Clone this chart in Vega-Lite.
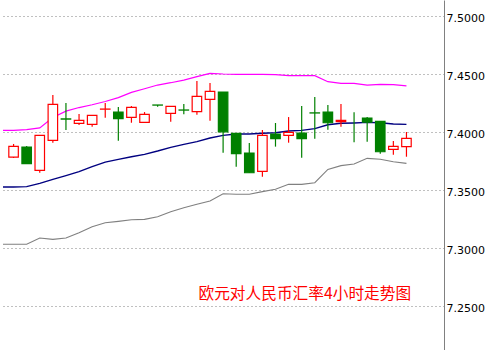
{
  "$schema": "https://vega.github.io/schema/vega-lite/v6.json",
  "width": 441,
  "height": 350,
  "padding": 0,
  "background": "white",
  "config": {"view": {"stroke": null}},
  "datasets": {
    "candles": [
      {"i": 0, "open": 7.3784, "high": 7.3897, "low": 7.3776, "close": 7.3876},
      {"i": 1, "open": 7.3871, "high": 7.3879, "low": 7.3727, "close": 7.3727},
      {"i": 2, "open": 7.3670, "high": 7.3971, "low": 7.3649, "close": 7.3971},
      {"i": 3, "open": 7.3928, "high": 7.4319, "low": 7.3908, "close": 7.4239},
      {"i": 4, "open": 7.4113, "high": 7.4250, "low": 7.4017, "close": 7.4112},
      {"i": 5, "open": 7.4075, "high": 7.4155, "low": 7.4060, "close": 7.4101},
      {"i": 6, "open": 7.4066, "high": 7.4144, "low": 7.4046, "close": 7.4144},
      {"i": 7, "open": 7.4197, "high": 7.4250, "low": 7.4124, "close": 7.4198},
      {"i": 8, "open": 7.4172, "high": 7.4216, "low": 7.3925, "close": 7.4115},
      {"i": 9, "open": 7.4126, "high": 7.4224, "low": 7.4080, "close": 7.4213},
      {"i": 10, "open": 7.4083, "high": 7.4172, "low": 7.4083, "close": 7.4152},
      {"i": 11, "open": 7.4233, "high": 7.4233, "low": 7.4218, "close": 7.4232},
      {"i": 12, "open": 7.4161, "high": 7.4221, "low": 7.4089, "close": 7.4221},
      {"i": 13, "open": 7.4190, "high": 7.4241, "low": 7.4153, "close": 7.4189},
      {"i": 14, "open": 7.4175, "high": 7.4440, "low": 7.4149, "close": 7.4307},
      {"i": 15, "open": 7.4282, "high": 7.4422, "low": 7.4098, "close": 7.4351},
      {"i": 16, "open": 7.4345, "high": 7.4345, "low": 7.3822, "close": 7.4002},
      {"i": 17, "open": 7.3989, "high": 7.3989, "low": 7.3701, "close": 7.3813},
      {"i": 18, "open": 7.3819, "high": 7.3905, "low": 7.3649, "close": 7.3649},
      {"i": 19, "open": 7.3661, "high": 7.4017, "low": 7.3615, "close": 7.3971},
      {"i": 20, "open": 7.3983, "high": 7.4078, "low": 7.3874, "close": 7.3943},
      {"i": 21, "open": 7.3971, "high": 7.4129, "low": 7.3908, "close": 7.3997},
      {"i": 22, "open": 7.3991, "high": 7.4224, "low": 7.3779, "close": 7.3943},
      {"i": 23, "open": 7.4165, "high": 7.4302, "low": 7.3943, "close": 7.4164},
      {"i": 24, "open": 7.4172, "high": 7.4233, "low": 7.4020, "close": 7.4080},
      {"i": 25, "open": 7.4089, "high": 7.4241, "low": 7.4046, "close": 7.4101},
      {"i": 26, "open": 7.4050, "high": 7.4170, "low": 7.3911, "close": 7.4050},
      {"i": 27, "open": 7.4121, "high": 7.4129, "low": 7.3917, "close": 7.4086},
      {"i": 28, "open": 7.4092, "high": 7.4092, "low": 7.3813, "close": 7.3830},
      {"i": 29, "open": 7.3851, "high": 7.3922, "low": 7.3805, "close": 7.3876},
      {"i": 30, "open": 7.3874, "high": 7.4000, "low": 7.3787, "close": 7.3945}
    ],
    "bands": [
      {"i": -1, "upper": 7.4014, "mid": 7.3526, "lower": 7.3032},
      {"i": 0, "upper": 7.4014, "mid": 7.3526, "lower": 7.3032},
      {"i": 1, "upper": 7.4020, "mid": 7.3529, "lower": 7.3032},
      {"i": 2, "upper": 7.4035, "mid": 7.3557, "lower": 7.3086},
      {"i": 3, "upper": 7.4125, "mid": 7.3592, "lower": 7.3075},
      {"i": 4, "upper": 7.4180, "mid": 7.3624, "lower": 7.3086},
      {"i": 5, "upper": 7.4211, "mid": 7.3658, "lower": 7.3132},
      {"i": 6, "upper": 7.4235, "mid": 7.3701, "lower": 7.3184},
      {"i": 7, "upper": 7.4263, "mid": 7.3741, "lower": 7.3218},
      {"i": 8, "upper": 7.4296, "mid": 7.3764, "lower": 7.3230},
      {"i": 9, "upper": 7.4342, "mid": 7.3787, "lower": 7.3244},
      {"i": 10, "upper": 7.4373, "mid": 7.3807, "lower": 7.3247},
      {"i": 11, "upper": 7.4405, "mid": 7.3836, "lower": 7.3270},
      {"i": 12, "upper": 7.4425, "mid": 7.3868, "lower": 7.3313},
      {"i": 13, "upper": 7.4448, "mid": 7.3894, "lower": 7.3348},
      {"i": 14, "upper": 7.4477, "mid": 7.3917, "lower": 7.3377},
      {"i": 15, "upper": 7.4506, "mid": 7.3948, "lower": 7.3405},
      {"i": 16, "upper": 7.4500, "mid": 7.3971, "lower": 7.3468},
      {"i": 17, "upper": 7.4497, "mid": 7.3983, "lower": 7.3463},
      {"i": 18, "upper": 7.4497, "mid": 7.3983, "lower": 7.3463},
      {"i": 19, "upper": 7.4497, "mid": 7.3989, "lower": 7.3486},
      {"i": 20, "upper": 7.4494, "mid": 7.3994, "lower": 7.3506},
      {"i": 21, "upper": 7.4486, "mid": 7.4009, "lower": 7.3549},
      {"i": 22, "upper": 7.4486, "mid": 7.4014, "lower": 7.3549},
      {"i": 23, "upper": 7.4486, "mid": 7.4029, "lower": 7.3563},
      {"i": 24, "upper": 7.4434, "mid": 7.4063, "lower": 7.3678},
      {"i": 25, "upper": 7.4420, "mid": 7.4075, "lower": 7.3710},
      {"i": 26, "upper": 7.4420, "mid": 7.4078, "lower": 7.3724},
      {"i": 27, "upper": 7.4405, "mid": 7.4083, "lower": 7.3773},
      {"i": 28, "upper": 7.4411, "mid": 7.4080, "lower": 7.3765},
      {"i": 29, "upper": 7.4408, "mid": 7.4069, "lower": 7.3744},
      {"i": 30, "upper": 7.4397, "mid": 7.4066, "lower": 7.3730}
    ],
    "notes": [
      {"label": "欧元对人民币汇率4小时走势图", "i": 22.24, "v": 7.2606}
    ]
  },
  "encoding": {
    "x": {
      "field": "i",
      "type": "quantitative",
      "scale": {"domain": [-0.425, 32.485], "nice": false, "zero": false},
      "axis": null
    }
  },
  "layer": [
    {
      "data": {"values": [{"v": 7.25}]},
      "mark": {"type": "point", "opacity": 0},
      "encoding": {
        "x": {"value": 0},
        "y": {
          "field": "v",
          "type": "quantitative",
          "scale": {"domain": [7.2121, 7.5138], "nice": false, "zero": false},
          "axis": {
            "orient": "right",
            "title": null,
            "values": [7.25, 7.3, 7.35, 7.4, 7.45, 7.5],
            "format": ".4f",
            "ticks": false,
            "labelPadding": 2,
            "labelOffset": 2,
            "labelFont": "DejaVu Sans",
            "labelFontSize": 11,
            "labelColor": "#000000",
            "domainColor": "#808080",
            "domainWidth": 1,
            "grid": true,
            "gridColor": "#808080",
            "gridDash": [1, 3],
            "gridOpacity": 1,
            "gridWidth": 1
          }
        }
      }
    },
    {
      "data": {"name": "bands"},
      "mark": {"type": "line", "color": "#FF00FF", "strokeWidth": 1.2, "clip": true},
      "encoding": {"y": {"field": "upper", "type": "quantitative"}}
    },
    {
      "data": {"name": "bands"},
      "mark": {"type": "line", "color": "#000080", "strokeWidth": 1.4, "clip": true},
      "encoding": {"y": {"field": "mid", "type": "quantitative"}}
    },
    {
      "data": {"name": "bands"},
      "mark": {"type": "line", "color": "#808080", "strokeWidth": 1.1, "clip": true},
      "encoding": {"y": {"field": "lower", "type": "quantitative"}}
    },
    {
      "data": {"name": "candles"},
      "mark": {"type": "rule", "strokeWidth": 1.2},
      "encoding": {
        "y": {"field": "low", "type": "quantitative"},
        "y2": {"field": "high"},
        "color": {"condition": {"test": "datum.close > datum.open", "value": "#FF0000"}, "value": "#008000"}
      }
    },
    {
      "data": {"name": "candles"},
      "transform": [{"filter": "datum.open !== datum.close"}],
      "mark": {"type": "bar", "width": 9.5, "strokeWidth": 1.2},
      "encoding": {
        "y": {"field": "open", "type": "quantitative"},
        "y2": {"field": "close"},
        "fill": {"condition": {"test": "datum.close > datum.open", "value": "#FFFFFF"}, "value": "#008000"},
        "stroke": {"condition": {"test": "datum.close > datum.open", "value": "#FF0000"}, "value": "#008000"}
      }
    },
    {
      "data": {"name": "notes"},
      "mark": {"type": "text", "font": "Noto Sans CJK SC", "fontSize": 15.7, "color": "#FF0000", "align": "center", "baseline": "middle"},
      "encoding": {
        "y": {"field": "v", "type": "quantitative"},
        "text": {"field": "label"}
      }
    }
  ]
}
